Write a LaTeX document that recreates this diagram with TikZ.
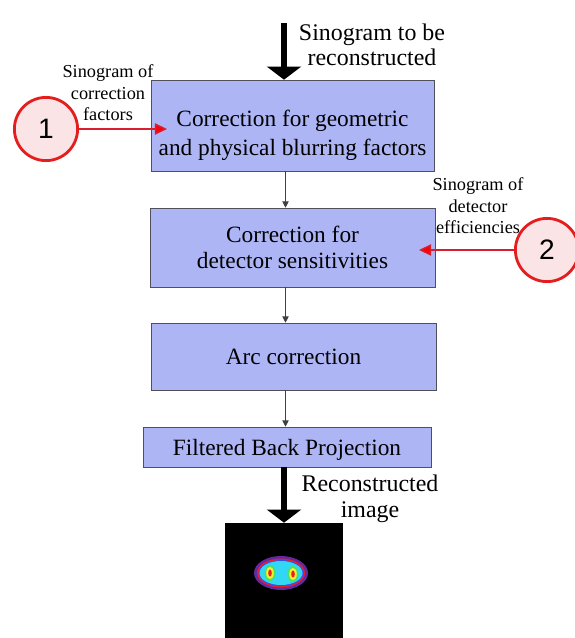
\documentclass[tikz,border=0pt]{standalone}
\usepackage{fontspec}
\setmainfont{Liberation Serif}
\newfontfamily\numfont{Liberation Sans}
\usetikzlibrary{arrows.meta}

\definecolor{stagefill}{RGB}{173,181,245}
\definecolor{stageline}{RGB}{80,80,90}
\definecolor{badgered}{RGB}{228,30,30}
\definecolor{badgefill}{RGB}{250,228,230}
\definecolor{feedred}{RGB}{216,30,48}
\definecolor{petpurple}{RGB}{100,40,160}
\definecolor{petred}{RGB}{235,30,40}
\definecolor{petblue}{RGB}{50,80,240}
\definecolor{petcyan}{RGB}{50,215,245}
\definecolor{petgreen}{RGB}{70,225,110}
\definecolor{petyellow}{RGB}{245,240,40}

\begin{document}
\begin{tikzpicture}[x=0.025cm,y=-0.025cm,
	stage/.style={draw=stageline,fill=stagefill,align=center,inner sep=0pt,text depth=0pt},
	note/.style={align=center,inner sep=0pt,font=\fontsize{13}{15.3}\selectfont},
	big/.style={align=center,inner sep=0pt,font=\fontsize{17}{18.2}\selectfont},
	badge/.style={circle,draw=badgered,line width=2pt,fill=badgefill,minimum size=1.58cm,inner sep=0pt,font=\numfont\fontsize{20}{20}\selectfont},
	flow/.style={draw=black!75,line width=0.7pt,-{Triangle[width=0.16cm,length=0.16cm]}},
	bigflow/.style={line width=4.3pt,-{Triangle[width=0.85cm,length=0.33cm]}},
	feed/.style={draw=feedred,line width=1pt,-{Triangle[width=0.28cm,length=0.3cm,fill=red]}}]
\useasboundingbox (0,0) rectangle (574,638);
%
	% processing chain
	\node[stage,minimum width=7.075cm,minimum height=2.275cm,text height=43pt,
		font=\fontsize{16.6}{20.6}\selectfont] (geo) at (292.5,125.5)
		{Correction for geometric\\and physical blurring factors};
	\node[stage,minimum width=7.125cm,minimum height=1.975cm,text height=30pt,
		font=\fontsize{16.6}{18.6}\selectfont] (sens) at (292.5,247.5)
		{Correction for\\detector sensitivities};
	\node[stage,minimum width=7.125cm,minimum height=1.675cm,text height=12pt,
		font=\fontsize{16.6}{20}\selectfont] (arc) at (293.5,356.5) {Arc correction};
	\node[stage,minimum width=7.2cm,minimum height=1cm,text height=11.4pt,
		font=\fontsize{16.6}{20}\selectfont] (fbp) at (287,447) {Filtered Back Projection};
	\node[fill=black,minimum width=2.95cm,minimum height=2.875cm,inner sep=0pt] (img) at (284,580.5) {};
%
	% inputs
	\node[badge] (c1) at (46,129) {1};
	\node[badge] (c2) at (547,250) {2};
	\node[note] (n1) at (108,93) {Sinogram of\\correction\\factors};
	\node[note] (n2) at (478,206) {Sinogram of\\detector\\efficiencies};
	\node[big] (top) at (372,45) {Sinogram to be\\reconstructed};
	\node[big] (out) at (370,499) {Reconstructed\\image};
%
	\coordinate (axis) at (285.5,0);
	\coordinate (src) at (284,23);
	\coordinate (tip1) at (167,129);
	\coordinate (tip2) at (419,250);
%
	\draw[bigflow] (src) -- (src |- geo.north);
	\draw[flow] (geo.south -| axis) -- (sens.north -| axis);
	\draw[flow] (sens.south -| axis) -- (arc.north -| axis);
	\draw[flow] (arc.south -| axis) -- (fbp.north -| axis);
	\draw[bigflow] (fbp.south -| img.north) -- (img.north);
	\draw[feed] (c1.east) -- (tip1);
	\draw[feed] (c2.west) -- (tip2);
%
	% reconstructed slice
	\fill[petpurple] (281,573) ellipse [x radius=27,y radius=17];
	\fill[petred] (281,573) ellipse [x radius=24,y radius=14.5];
	\fill[petblue] (281,573) ellipse [x radius=22.5,y radius=13];
	\fill[petcyan] (281,573) ellipse [x radius=21.5,y radius=12];
	\foreach \hx/\hy in {270/573,293/574} {
		\fill[petgreen] (\hx,\hy) ellipse [x radius=5.5,y radius=8];
		\fill[petyellow] (\hx,\hy) ellipse [x radius=3.8,y radius=6.2];
		\fill[petred] (\hx,\hy) ellipse [x radius=1.8,y radius=3.5];
	}
\end{tikzpicture}
\end{document}
